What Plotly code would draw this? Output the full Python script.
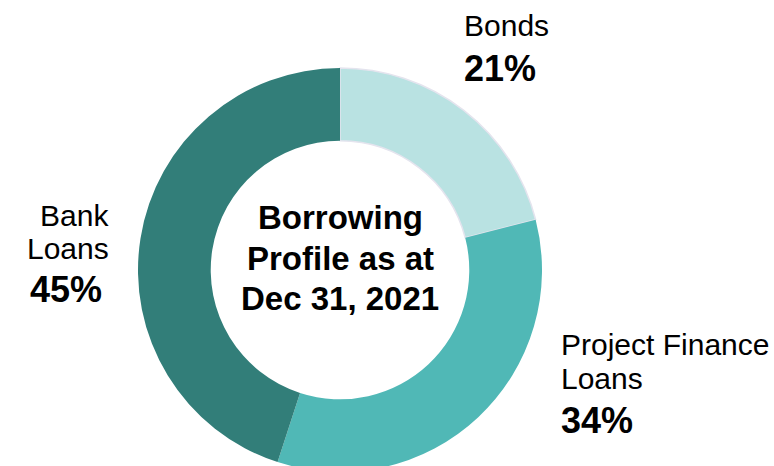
import plotly.graph_objects as go

# Borrowing mix at year end 2021
categories = ["Bonds", "Project Finance Loans", "Bank Loans"]
shares = [21, 34, 45]
slice_colors = ["#B9E2E2", "#50B8B6", "#327E79"]
edge_colors = ["#E4E4EE", "#50B8B6", "#327E79"]
edge_widths = [1.5, 0, 0]

# label lines: category name lines, then the bold percentage
label_lines = {
    "Bonds": ["Bonds"],
    "Project Finance Loans": ["Project Finance", "Loans"],
    "Bank Loans": ["Bank", "Loans"],
}
centre_lines = ["Borrowing", "Profile as at", "Dec 31, 2021"]

W, H = 774, 472
FONT = "Liberation Sans, Arial, sans-serif"

fig = go.Figure(
    go.Pie(
        labels=categories,
        values=shares,
        hole=0.64,
        sort=False,
        direction="clockwise",
        rotation=0,
        marker=dict(colors=slice_colors, line=dict(color=edge_colors, width=edge_widths)),
        textinfo="none",
        hoverinfo="label+percent",
        showlegend=False,
        domain=dict(x=[138 / W, 542 / W], y=[0, 404 / H]),
    )
)


def px(x):
    return x / W


def py(y):
    return 1 - y / H


annotations = []
# (anchor, line x positions, line centres, percent centre, percent x)
placements = {
    "Bonds": ("left", [462], [25.5], 69, 462),
    "Project Finance Loans": ("left", [559, 559], [344, 378], 420, 559),
    "Bank Loans": ("right", [111, 111], [215, 248], 289, 104),
}
for cat, val in zip(categories, shares):
    anchor, xs, ys, pct_y, pct_x = placements[cat]
    for line, x, y in zip(label_lines[cat], xs, ys):
        annotations.append(dict(
            text=line, x=px(x), y=py(y), xref="paper", yref="paper",
            xanchor=anchor, yanchor="middle", showarrow=False,
            font=dict(family=FONT, size=30, color="#000000"),
        ))
    annotations.append(dict(
        text=f"<b>{val}%</b>", x=px(pct_x), y=py(pct_y), xref="paper", yref="paper",
        xanchor=anchor, yanchor="middle", showarrow=False,
        font=dict(family=FONT, size=36, color="#000000"),
    ))

# centre title inside the hole
for line, y in zip(centre_lines, [217, 258, 298]):
    annotations.append(dict(
        text=f"<b>{line}</b>",
        x=px(340), y=py(y), xref="paper", yref="paper",
        xanchor="center", yanchor="middle", showarrow=False,
        font=dict(family=FONT, size=33, color="#000000"),
    ))

fig.update_layout(
    width=W, height=H,
    margin=dict(l=0, r=0, t=0, b=0),
    paper_bgcolor="white", plot_bgcolor="white",
    annotations=annotations,
)

fig.write_html("out.html", post_script="document.body.style.overflow='hidden';document.body.style.margin='0';")
